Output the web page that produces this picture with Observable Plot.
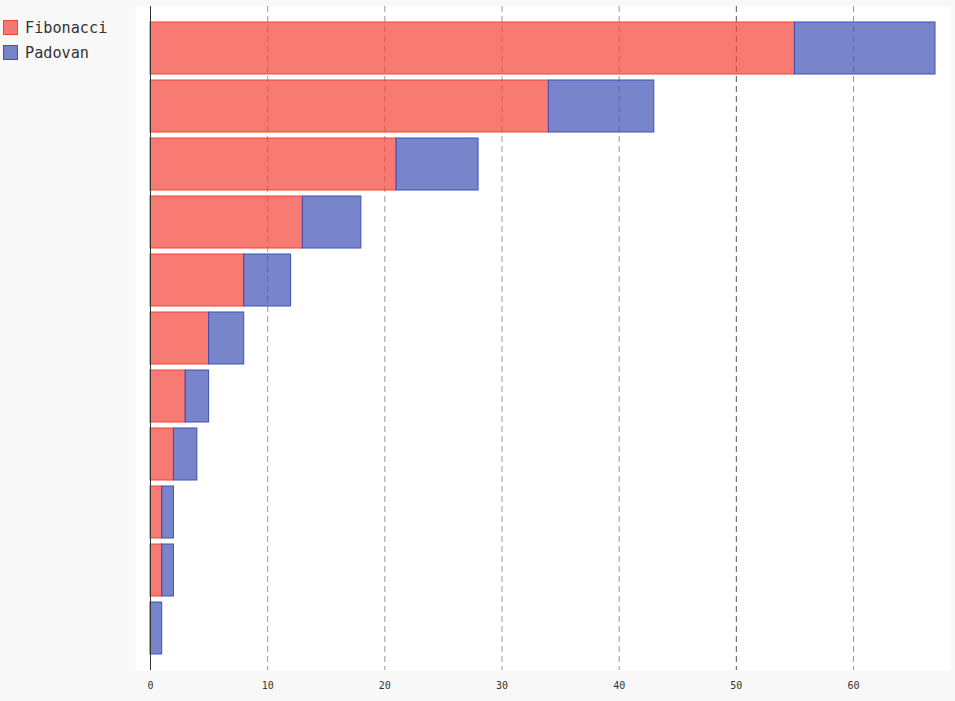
<!DOCTYPE html>
<html>
<head>
<meta charset="utf-8">
<script src="https://cdn.jsdelivr.net/npm/d3@7"></script>
<script src="https://cdn.jsdelivr.net/npm/@observablehq/plot@0.6"></script>
<style>
  html, body { margin: 0; padding: 0; background: #f8f8f8; }
  #wrap { position: relative; width: 955px; height: 701px; }
  #legend { position: absolute; left: 3px; top: 15px; font-family: "DejaVu Sans Mono", monospace; font-size: 15.2px; color: #333; }
  .item { display: flex; align-items: center; height: 25px; }
  .sw { width: 13px; height: 13px; margin-right: 7px; border: 1px solid; }
</style>
</head>
<body>
<div id="wrap">
  <div id="chart"></div>
  <div id="legend"></div>
</div>
<script>
const seriesNames = ["Fibonacci", "Padovan"];
const seriesColors = ["#F44336", "#3F51B5"];
const fibonacci = [0, 1, 1, 2, 3, 5, 8, 13, 21, 34, 55];
const padovan = [1, 1, 1, 2, 2, 3, 4, 5, 7, 9, 12];
const xTicks = [0, 10, 20, 30, 40, 50, 60];
const gridTicks = [10, 20, 30, 40, 60];
const majorTicks = [50];

const rows = [];
fibonacci.forEach((v, i) => rows.push({i, series: "Fibonacci", value: v}));
padovan.forEach((v, i) => rows.push({i, series: "Padovan", value: v}));
const yDomain = d3.range(fibonacci.length).reverse();

const chart = Plot.plot({
  width: 955,
  height: 701,
  marginLeft: 150,
  marginRight: 20,
  marginTop: 19,
  marginBottom: 44,
  style: {background: "#f8f8f8", fontFamily: "'DejaVu Sans Mono', monospace", fontSize: "10px", color: "#333"},
  x: {domain: [0, 67], ticks: xTicks, tickSize: 0, tickPadding: 24, label: null, tickFormat: d => String(d)},
  y: {domain: yDomain, paddingInner: 0.1, paddingOuter: 0.05, axis: null},
  color: {domain: seriesNames, range: seriesColors},
  marks: [
    Plot.frame({fill: "white", stroke: "none", insetLeft: -15, insetRight: -15, insetTop: -13, insetBottom: -13}),
    Plot.ruleX(gridTicks, {stroke: "#999", strokeDasharray: "6,4", strokeWidth: 1, insetTop: -13, insetBottom: -13}),
    Plot.ruleX(majorTicks, {stroke: "#555", strokeDasharray: "6,4", strokeWidth: 1, insetTop: -13, insetBottom: -13}),
    Plot.barX(rows, Plot.stackX({x: "value", y: "i", fill: "series", stroke: "series", fillOpacity: 0.7, strokeWidth: 1})),
    Plot.ruleX([0], {stroke: "#333", strokeWidth: 1, insetTop: -13, insetBottom: -13})
  ]
});
document.getElementById("chart").appendChild(chart);

const legend = document.getElementById("legend");
seriesNames.forEach((name, k) => {
  const item = document.createElement("div");
  item.className = "item";
  const sw = document.createElement("span");
  sw.className = "sw";
  const c = d3.color(seriesColors[k]);
  sw.style.borderColor = seriesColors[k];
  sw.style.background = `rgba(${c.r},${c.g},${c.b},0.7)`;
  const t = document.createElement("span");
  t.textContent = name;
  item.appendChild(sw);
  item.appendChild(t);
  legend.appendChild(item);
});
</script>
</body>
</html>
